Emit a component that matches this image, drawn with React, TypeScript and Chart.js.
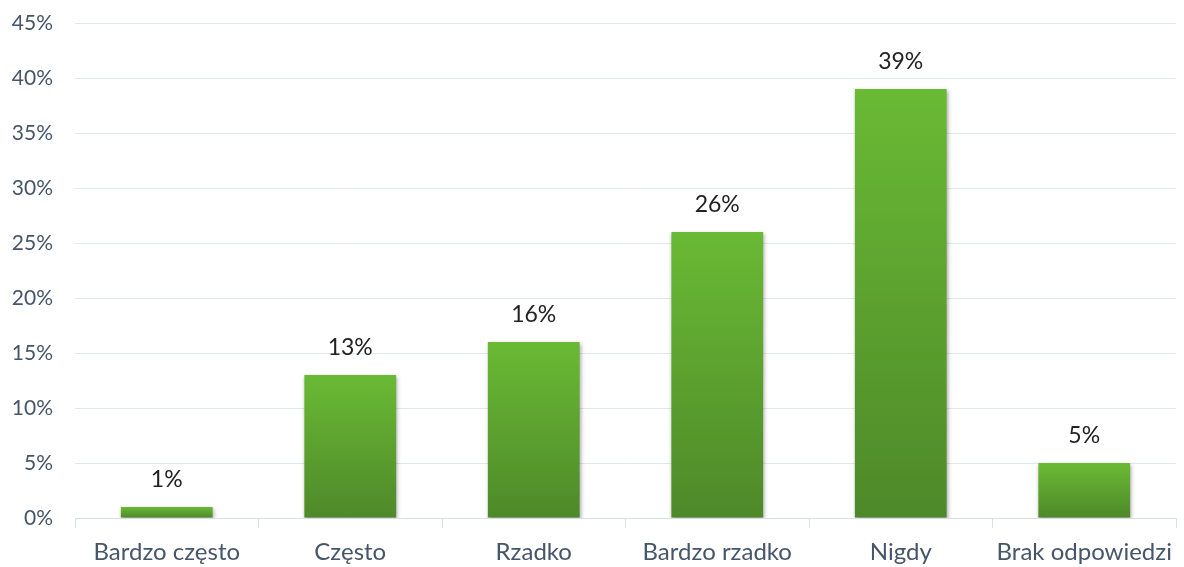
import React, { useEffect, useRef } from "react";
import { Chart, registerables } from "chart.js";

Chart.register(...registerables);

const categories = ["Bardzo często", "Często", "Rzadko", "Bardzo rzadko", "Nigdy", "Brak odpowiedzi"];
const values = [1, 13, 16, 26, 39, 5];
const valueLabels = ["1%", "13%", "16%", "26%", "39%", "5%"];
const yMax = 45;
const yStep = 5;

const FONT = "Lato, 'Open Sans', sans-serif";

const barGradient = (c: any) => {
  const chart = c.chart;
  const ys = chart.scales && chart.scales.y;
  if (!chart.chartArea || !ys || c.dataIndex === undefined) return "#5da230";
  const top = ys.getPixelForValue(values[c.dataIndex]);
  const base = ys.getPixelForValue(0);
  const g = chart.ctx.createLinearGradient(0, top, 0, base);
  g.addColorStop(0, "#6aba35");
  g.addColorStop(1, "#4e8929");
  return g;
};

const barStyle = {
  id: "barStyle",
  beforeDatasetsDraw(chart: any) {
    const { ctx } = chart;
    ctx.save();
    ctx.shadowColor = "rgba(0,0,0,0.35)";
    ctx.shadowBlur = 4;
    ctx.shadowOffsetX = 1;
    ctx.shadowOffsetY = 2;
  },
  afterDatasetsDraw(chart: any) {
    const { ctx } = chart;
    ctx.restore();
    const meta = chart.getDatasetMeta(0);
    ctx.save();
    ctx.fillStyle = "#222222";
    ctx.font = `23px ${FONT}`;
    ctx.textAlign = "center";
    ctx.textBaseline = "middle";
    meta.data.forEach((bar: any, i: number) => {
      ctx.fillText(valueLabels[i], bar.x, bar.y - 27);
    });
    ctx.restore();
  },
};

export default function App() {
  const canvasRef = useRef<HTMLCanvasElement | null>(null);

  useEffect(() => {
    document.body.style.margin = "0";
    document.body.style.overflow = "hidden";
    const chart = new Chart(canvasRef.current as HTMLCanvasElement, {
      type: "bar",
      data: {
        labels: categories,
        datasets: [
          {
            data: values,
            backgroundColor: barGradient,
            barPercentage: 0.5,
            categoryPercentage: 1,
          },
        ],
      },
      options: {
        animation: false,
        responsive: true,
        maintainAspectRatio: false,
        layout: { padding: { top: 23, right: 8, bottom: 0, left: 11 } },
        plugins: {
          legend: { display: false },
          tooltip: { enabled: false },
        },
        scales: {
          x: {
            offset: true,
            afterFit: (s: any) => {
              s.paddingLeft = 0;
              s.paddingRight = 0;
              s.height = 59;
            },
            grid: {
              display: true,
              offset: true,
              drawOnChartArea: false,
              drawTicks: true,
              tickLength: 10,
              tickColor: "#d9dfe6",
            },
            border: { display: true, color: "#d9dfe6", width: 1 },
            ticks: {
              color: "#465569",
              font: { family: FONT, size: 24 },
              padding: 10,
              maxRotation: 0,
            },
          },
          y: {
            min: 0,
            max: yMax,
            afterFit: (s: any) => {
              s.paddingTop = 0;
              s.paddingBottom = 0;
              s.width = 64;
            },
            border: { display: false },
            grid: { color: "#e1e7ee", drawTicks: false, lineWidth: 1 },
            ticks: {
              stepSize: yStep,
              color: "#465569",
              font: { family: FONT, size: 21 },
              padding: 22,
              callback: (v: any) => `${v}%`,
            },
          },
        },
      },
      plugins: [barStyle],
    });
    return () => chart.destroy();
  }, []);

  return (
    <div style={{ position: "fixed", left: 0, top: 0, width: 1184, height: 577 }}>
      <canvas ref={canvasRef} />
    </div>
  );
}
